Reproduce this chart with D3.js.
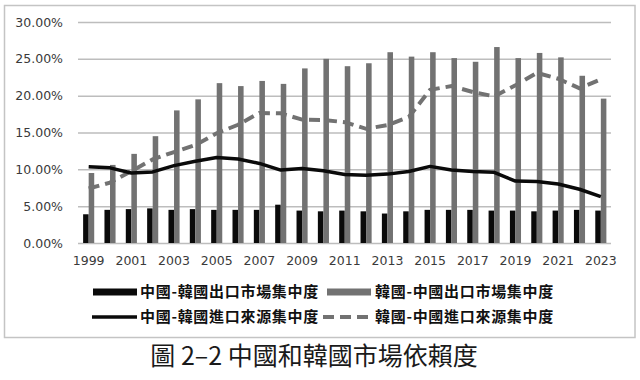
<!DOCTYPE html>
<html>
<head>
<meta charset="utf-8">
<script src="https://cdn.jsdelivr.net/npm/d3@7"></script>
<style>
    body { margin: 0; background: #fff; }
    svg { display: block; }
</style>
</head>
<body>
<svg id="main_svg" width="640" height="380"></svg>
<script>
// 年份
var years = ["1999","2000","2001","2002","2003","2004","2005","2006","2007","2008","2009","2010","2011",
    "2012","2013","2014","2015","2016","2017","2018","2019","2020","2021","2022","2023"];

// 中國-韓國出口市場集中度 (%)
var cnKrExport = [3.9,4.5,4.6,4.7,4.5,4.6,4.5,4.5,4.5,5.2,4.4,4.3,4.4,4.3,4.0,4.3,4.5,4.5,4.5,4.4,4.4,4.3,4.4,4.5,4.4];
// 韓國-中國出口市場集中度 (%)
var krCnExport = [9.5,10.6,12.1,14.5,18.0,19.5,21.7,21.3,22.0,21.6,23.7,25.0,24.0,24.4,25.9,25.3,25.9,25.1,24.6,26.6,25.1,25.8,25.2,22.7,19.6];
// 中國-韓國進口來源集中度 (%)
var cnKrImport = [10.35,10.2,9.5,9.65,10.5,11.1,11.6,11.4,10.8,9.9,10.1,9.8,9.3,9.2,9.35,9.7,10.4,9.9,9.7,9.6,8.4,8.35,8.0,7.3,6.3];
// 韓國-中國進口來源集中度 (%)
var krCnImport = [7.4,8.2,9.75,11.35,12.35,13.3,14.9,16.05,17.65,17.6,16.75,16.7,16.4,15.5,16.0,17.1,20.8,21.3,20.5,19.9,21.4,23.1,22.3,21.0,22.2];

var yTicks = [0, 5, 10, 15, 20, 25, 30];

var seriesNames = ["中國-韓國出口市場集中度", "韓國-中國出口市場集中度",
    "中國-韓國進口來源集中度", "韓國-中國進口來源集中度"];

var svg = d3.select("#main_svg");

// 外框
svg.append("rect")
    .attr("x", 4.5)
    .attr("y", 5.5)
    .attr("width", 630.5)
    .attr("height", 332)
    .attr("fill", "none")
    .attr("stroke", "#c4c4c4")
    .attr("stroke-width", 1.5);

var x = d3.scaleBand()
    .domain(years)
    .range([78, 611.5])
    .paddingInner(0.48)
    .paddingOuter(0.24);

var x1 = d3.scaleBand()
    .domain([0, 1])
    .range([0, x.bandwidth()]);

var y = d3.scaleLinear()
    .domain([0, 30])
    .range([243, 22]);

// 格線
var grid = svg.append("g")
    .attr("transform", "translate(78,0)")
    .call(d3.axisLeft(y)
        .tickValues(yTicks)
        .tickSize(-(611 - 78))
        .tickFormat(function(d) { return d.toFixed(2) + "%"; }));

grid.select(".domain").remove();
grid.selectAll(".tick line")
    .attr("stroke", "#bdbdbd")
    .attr("stroke-width", 1.5);
grid.selectAll(".tick text")
    .attr("x", -15)
    .attr("fill", "#3a3a3a")
    .style("font-family", "DejaVu Sans")
    .style("font-size", "12.5px");

// x軸
var xAxis = svg.append("g")
    .attr("transform", "translate(0,243)")
    .call(d3.axisBottom(x)
        .tickValues(years.filter(function(d, i) { return i % 2 == 0; }))
        .tickSize(0)
        .tickPadding(13));

xAxis.select(".domain").remove();
xAxis.selectAll("text")
    .attr("fill", "#3a3a3a")
    .style("font-family", "DejaVu Sans")
    .style("font-size", "12.5px");

// 長條
var bars = svg.append("g").attr("id", "bars");

bars.selectAll("rect.cn")
    .data(cnKrExport)
    .enter()
    .append("rect")
    .attr("class", "cn")
    .attr("x", function(d, i) { return x(years[i]) + x1(0); })
    .attr("width", x1.bandwidth())
    .attr("y", function(d) { return y(d); })
    .attr("height", function(d) { return y(0) - y(d); })
    .attr("fill", "#0a0a0a");

bars.selectAll("rect.kr")
    .data(krCnExport)
    .enter()
    .append("rect")
    .attr("class", "kr")
    .attr("x", function(d, i) { return x(years[i]) + x1(1); })
    .attr("width", x1.bandwidth())
    .attr("y", function(d) { return y(d); })
    .attr("height", function(d) { return y(0) - y(d); })
    .attr("fill", "#727272");

// 折線
var line = d3.line()
    .x(function(d, i) { return x(years[i]) + x.bandwidth() / 2; })
    .y(function(d) { return y(d); });

svg.append("path")
    .datum(krCnImport)
    .attr("d", line)
    .attr("fill", "none")
    .attr("stroke", "#727272")
    .attr("stroke-width", 4)
    .attr("stroke-dasharray", "11,6");

svg.append("path")
    .datum(cnKrImport)
    .attr("d", line)
    .attr("fill", "none")
    .attr("stroke", "#0a0a0a")
    .attr("stroke-width", 3.5)
    .attr("stroke-linejoin", "round");

// 圖例
var legend = svg.append("g").attr("id", "legend");
var legendPos = [[93, 292], [327, 292], [92, 317], [323, 317]];

legendPos.forEach(function(p, i) {
    var g = legend.append("g");
    if (i == 0 || i == 1) {
        g.append("rect")
            .attr("x", p[0])
            .attr("y", p[1] - 3.5)
            .attr("width", 44)
            .attr("height", 7)
            .attr("fill", i == 0 ? "#0a0a0a" : "#727272");
    }
    else {
        g.append("line")
            .attr("x1", p[0])
            .attr("x2", p[0] + (i == 2 ? 45 : 47))
            .attr("y1", p[1])
            .attr("y2", p[1])
            .attr("stroke", i == 2 ? "#0a0a0a" : "#727272")
            .attr("stroke-width", i == 2 ? 3.5 : 4)
            .attr("stroke-dasharray", i == 3 ? "11,6" : null);
    }
    g.append("text")
        .attr("x", i % 2 == 0 ? 140 : 375)
        .attr("y", p[1])
        .attr("dy", "0.36em")
        .attr("fill", "#111")
        .style("font-family", "Noto Sans CJK TC")
        .style("font-weight", "bold")
        .style("font-size", "15px")
        .style("letter-spacing", "0.7px")
        .text(seriesNames[i]);
});

// 標題
svg.append("text")
    .attr("x", 314)
    .attr("y", 356)
    .attr("dy", "0.36em")
    .attr("text-anchor", "middle")
    .attr("fill", "#1a1a1a")
    .style("font-family", "Noto Sans CJK TC")
    .style("font-size", "25px")
    .text("圖 2–2 中國和韓國市場依賴度");
</script>
</body>
</html>
